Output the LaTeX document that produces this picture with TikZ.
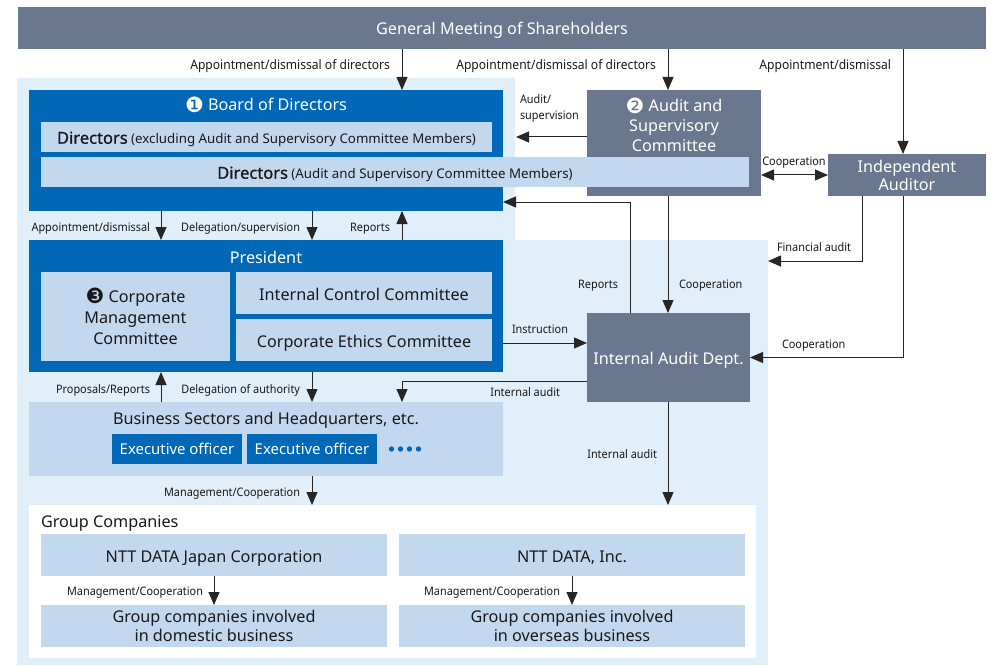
\documentclass[tikz,border=0pt]{standalone}
\usepackage{fontspec}
\setmainfont{Noto Sans}
\newfontfamily\condfont[FakeStretch=0.93]{Noto Sans}
\newfontfamily\semifont[FakeBold=0.8]{Noto Sans}
\newfontfamily\dingfont{DejaVu Sans}
\usetikzlibrary{arrows.meta, positioning}
\definecolor{slate}{HTML}{69788F}
\definecolor{navy}{HTML}{0068B6}
\definecolor{paleblue}{HTML}{C2D8EF}
\definecolor{bgblue}{HTML}{E1EFFA}
\newcommand{\circnum}[1]{{\dingfont\fontsize{21}{20}\selectfont\raisebox{-1.6pt}{#1}}}

\begin{document}
\begin{tikzpicture}[x=1pt, y=-1pt,
    every node/.style={inner sep=0pt, outer sep=0pt},
    big/.style={font=\fontsize{16.2}{20}\selectfont},
    one/.style={text height=14pt, text depth=0pt},
    slatebox/.style={fill=slate, text=white, align=center, big},
    navybox/.style={fill=navy, text=white, align=center, big},
    palebox/.style={fill=paleblue, text=black!90, align=center, big},
    lbl/.style={font=\condfont\fontsize{11.7}{16}\selectfont, text=black!90, align=left, text height=8.4pt, text depth=0pt},
    lbltop/.style={lbl, font=\condfont\fontsize{13}{16}\selectfont, text height=9.3pt},
    arr/.style={draw=black!85, line width=1pt, -{Triangle[length=13pt,width=11pt]}},
    arr2/.style={draw=black!85, line width=1pt, {Triangle[length=13pt,width=11pt]}-{Triangle[length=13pt,width=11pt]}}]
  \useasboundingbox (0,0) rectangle (991,666);
  \fill[bgblue] (17,78) -- (515,78) -- (515,240) -- (768,240) -- (768,665) -- (17,665) -- cycle;

  % columns and free ends of the connectors
  \coordinate (c1) at (161,0);
  \coordinate (c2) at (312,0);
  \coordinate (c3) at (402,0);
  \coordinate (c4) at (668,0);
  \coordinate (c5) at (903,0);
  \coordinate (c7) at (862,0);
  \coordinate (asup) at (516,137);
  \coordinate (rep) at (630,202);
  \coordinate (fin) at (768,261);
  \coordinate (ins) at (0,343);
  \coordinate (ia) at (0,381);

  \node[slatebox, one, minimum width=968, minimum height=42] (gm) at (502,28) {General Meeting of Shareholders};
  \node[navybox, minimum width=474, minimum height=121] (board) at (266,150.5) {};
  \node[text=white, big, one] (boardtitle) at (266,104) {\circnum{❶} Board of Directors};
  \node[palebox, minimum width=451, minimum height=30, font=\fontsize{13.3}{18}\selectfont, text height=13.5pt, text depth=0pt] (dirA) at (266.5,137)
    {{\semifont\fontsize{16.5}{18}\selectfont Directors} (excluding Audit and Supervisory Committee Members)};
  \node[slatebox, minimum width=174, minimum height=106] (asc) at (674,143) {};
  \node[text=white, big, align=center] (asctitle) at (674,125) {\circnum{❷} Audit and\\Supervisory\\Committee};
  \node[palebox, minimum width=708, minimum height=30, font=\fontsize{13.3}{18}\selectfont, text height=13.5pt, text depth=0pt] (dirB) at (395,172)
    {{\semifont\fontsize{16.5}{18}\selectfont Directors} (Audit and Supervisory Committee Members)};
  \node[slatebox, minimum width=158, minimum height=42, font=\fontsize{16.2}{18}\selectfont] (auditor) at (907,175) {Independent\\Auditor};

  \node[navybox, minimum width=474, minimum height=132] (pres) at (266,306) {};
  \node[text=white, big, one] (prestitle) at (266,256.5) {President};
  \node[palebox, minimum width=189, minimum height=89, font=\fontsize{16.2}{21}\selectfont] (cmc) at (135.5,316.5)
    {\circnum{❸} Corporate\\Management\\Committee};
  \node[palebox, one, minimum width=256, minimum height=42] (icc) at (364,293) {Internal Control Committee};
  \node[palebox, one, minimum width=256, minimum height=42] (cec) at (364,340) {Corporate Ethics Committee};
  \node[slatebox, one, minimum width=163, minimum height=89] (iad) at (668.5,357.5) {Internal Audit Dept.};

  \node[palebox, minimum width=474, minimum height=74] (biz) at (266,439) {};
  \node[big, one, text=black!90] (biztitle) at (266,417.5) {Business Sectors and Headquarters, etc.};
  \node[navybox, minimum width=130, minimum height=30, font=\fontsize{14.9}{18}\selectfont, text height=10.6pt, text depth=0pt] (exec1) at (177,449) {Executive officer};
  \node[navybox, minimum width=130, minimum height=30, font=\fontsize{14.9}{18}\selectfont, text height=10.6pt, text depth=0pt] (exec2) at (312,449) {Executive officer};
  \foreach \i in {0,...,3}
    \fill[navy] (391.5+9*\i,449) circle (2.7);

  \node[fill=white, minimum width=727, minimum height=153] (group) at (392.5,581.5) {};
  \node[big, one, text=black!90, anchor=west] (grouptitle) at (41,520) {Group Companies};
  \node[palebox, one, minimum width=346, minimum height=42] (jp) at (214,555) {NTT DATA Japan Corporation};
  \node[palebox, one, minimum width=346, minimum height=42] (inc) at (572,555) {NTT DATA, Inc.};
  \node[palebox, minimum width=346, minimum height=42, font=\fontsize{16.2}{19}\selectfont] (dom) at (214,626) {Group companies involved\\in domestic business};
  \node[palebox, minimum width=346, minimum height=42, font=\fontsize{16.2}{19}\selectfont] (ovs) at (572,626) {Group companies involved\\in overseas business};

  % connectors
  \draw[arr] (gm.south -| c3) -- (board.north -| c3);
  \draw[arr] (gm.south -| c4) -- (asc.north -| c4);
  \draw[arr] (gm.south -| c5) -- (auditor.north -| c5);
  \draw[arr] (asc.west |- asup) -- (asup);
  \draw[arr2] (asc.east |- auditor) -- (auditor.west);
  \draw[arr] (iad.north -| rep) -- (rep) -- (board.east |- rep);
  \draw[arr] (asc.south -| c4) -- (iad.north -| c4);
  \draw[arr] (auditor.south -| c7) |- (fin);
  \draw[arr] (auditor.south -| c5) |- (iad.east);
  \draw[arr] (pres.east |- ins) -- (iad.west |- ins);
  \draw[arr] (iad.west |- ia) -| (biz.north -| c3);
  \draw[arr] (iad.south -| c4) -- (group.north -| c4);
  \draw[arr] (board.south -| c1) -- (pres.north -| c1);
  \draw[arr] (board.south -| c2) -- (pres.north -| c2);
  \draw[arr] (pres.north -| c3) -- (board.south -| c3);
  \draw[arr] (biz.north -| c1) -- (pres.south -| c1);
  \draw[arr] (pres.south -| c2) -- (biz.north -| c2);
  \draw[arr] (biz.south -| c2) -- (group.north -| c2);
  \draw[arr] (jp.south) -- (dom.north);
  \draw[arr] (inc.south) -- (ovs.north);

  % labels
  \node[lbltop, anchor=east] at (390,65) {Appointment/dismissal of directors};
  \node[lbltop, anchor=east] at (656,65) {Appointment/dismissal of directors};
  \node[lbltop, anchor=east] at (891,65) {Appointment/dismissal};
  \node[lbl, anchor=west, text height=, text depth=, font=\condfont\fontsize{11.7}{16}\selectfont] at (520,108) {Audit/\\supervision};
  \node[lbl] at (794,161) {Cooperation};
  \node[lbl, anchor=east] at (150,227) {Appointment/dismissal};
  \node[lbl, anchor=east] at (300,227) {Delegation/supervision};
  \node[lbl, anchor=east] at (390,227) {Reports};
  \node[lbl, anchor=east] at (618,284) {Reports};
  \node[lbl, anchor=west] at (679,284) {Cooperation};
  \node[lbl, anchor=west] at (777,247) {Financial audit};
  \node[lbl, anchor=west] at (512,329) {Instruction};
  \node[lbl, anchor=west] at (782,344) {Cooperation};
  \node[lbl, anchor=east] at (560,392) {Internal audit};
  \node[lbl, anchor=east] at (657,454) {Internal audit};
  \node[lbl, anchor=east] at (150,389) {Proposals/Reports};
  \node[lbl, anchor=east] at (300,389) {Delegation of authority};
  \node[lbl, anchor=east] at (300,492) {Management/Cooperation};
  \node[lbl, anchor=east] at (203,591) {Management/Cooperation};
  \node[lbl, anchor=east] at (560,591) {Management/Cooperation};
\end{tikzpicture}
\end{document}
